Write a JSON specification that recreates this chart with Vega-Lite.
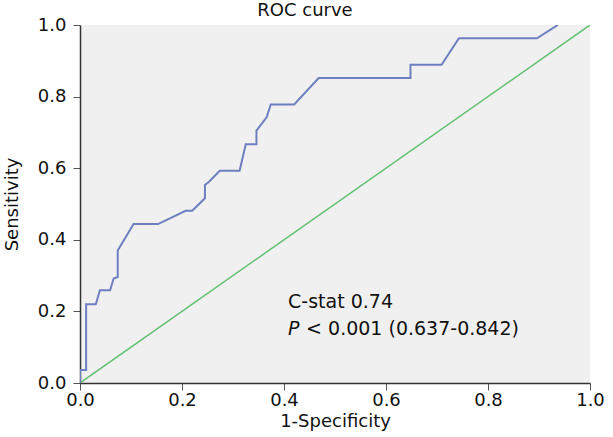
{
  "$schema": "https://vega.github.io/schema/vega-lite/v6.json",
  "width": 510,
  "height": 358,
  "autosize": "none",
  "padding": {"left": 80, "top": 25, "right": 23, "bottom": 54},
  "background": "white",
  "config": {
    "view": {"fill": "#f0f0f0", "stroke": null},
    "font": "DejaVu Sans",
    "axis": {
      "grid": false,
      "labelFlush": false,
      "labelOverlap": false,
      "domainColor": "#333333",
      "domainWidth": 1.5,
      "tickColor": "#555555",
      "tickSize": 7,
      "labelFont": "DejaVu Sans",
      "labelFontSize": 18,
      "labelColor": "#111111",
      "titleFont": "DejaVu Sans",
      "titleFontSize": 18,
      "titleFontWeight": "normal",
      "titleColor": "#111111"
    }
  },
  "title": {
    "text": "ROC curve",
    "fontSize": 18,
    "fontWeight": "normal",
    "font": "DejaVu Sans",
    "color": "#111111",
    "offset": -4,
    "dx": -30
  },
  "layer": [
    {
      "data": {"values": [{"fpr": 0, "tpr": 0}, {"fpr": 1, "tpr": 1}]},
      "mark": {"type": "line", "color": "#62c070", "strokeWidth": 1.5, "clip": true},
      "encoding": {
        "x": {"field": "fpr", "type": "quantitative", "scale": {"domain": [0, 1], "nice": false},
              "axis": {"values": [0, 0.2, 0.4, 0.6, 0.8, 1.0], "format": ".1f", "title": "1-Specificity", "titlePadding": 3, "labelPadding": 1}},
        "y": {"field": "tpr", "type": "quantitative", "scale": {"domain": [0, 1], "nice": false},
              "axis": {"values": [0, 0.2, 0.4, 0.6, 0.8, 1.0], "format": ".1f", "title": "Sensitivity", "titlePadding": 16, "labelPadding": 7}}
      }
    },
    {
      "data": {"values": [
        {"step": 0, "fpr": 0, "tpr": 0},
        {"step": 1, "fpr": 0, "tpr": 0.036},
        {"step": 2, "fpr": 0.012, "tpr": 0.036},
        {"step": 3, "fpr": 0.012, "tpr": 0.22},
        {"step": 4, "fpr": 0.031, "tpr": 0.22},
        {"step": 5, "fpr": 0.039, "tpr": 0.259},
        {"step": 6, "fpr": 0.059, "tpr": 0.259},
        {"step": 7, "fpr": 0.066, "tpr": 0.292},
        {"step": 8, "fpr": 0.074, "tpr": 0.296},
        {"step": 9, "fpr": 0.074, "tpr": 0.37},
        {"step": 10, "fpr": 0.105, "tpr": 0.444},
        {"step": 11, "fpr": 0.153, "tpr": 0.444},
        {"step": 12, "fpr": 0.207, "tpr": 0.481},
        {"step": 13, "fpr": 0.22, "tpr": 0.481},
        {"step": 14, "fpr": 0.245, "tpr": 0.516},
        {"step": 15, "fpr": 0.245, "tpr": 0.553},
        {"step": 16, "fpr": 0.253, "tpr": 0.562},
        {"step": 17, "fpr": 0.274, "tpr": 0.593},
        {"step": 18, "fpr": 0.313, "tpr": 0.593},
        {"step": 19, "fpr": 0.325, "tpr": 0.667},
        {"step": 20, "fpr": 0.346, "tpr": 0.667},
        {"step": 21, "fpr": 0.346, "tpr": 0.705},
        {"step": 22, "fpr": 0.366, "tpr": 0.742},
        {"step": 23, "fpr": 0.374, "tpr": 0.778},
        {"step": 24, "fpr": 0.42, "tpr": 0.778},
        {"step": 25, "fpr": 0.468, "tpr": 0.852},
        {"step": 26, "fpr": 0.648, "tpr": 0.852},
        {"step": 27, "fpr": 0.648, "tpr": 0.889},
        {"step": 28, "fpr": 0.709, "tpr": 0.889},
        {"step": 29, "fpr": 0.743, "tpr": 0.963},
        {"step": 30, "fpr": 0.896, "tpr": 0.963},
        {"step": 31, "fpr": 0.937, "tpr": 1.0}
      ]},
      "mark": {"type": "line", "color": "#6e7fc0", "strokeWidth": 2, "clip": true},
      "encoding": {
        "x": {"field": "fpr", "type": "quantitative"},
        "y": {"field": "tpr", "type": "quantitative"},
        "order": {"field": "step", "type": "quantitative"}
      }
    },
    {
      "data": {"values": [{"label": "C-stat 0.74"}]},
      "mark": {"type": "text", "align": "left", "baseline": "alphabetic", "fontSize": 19, "font": "DejaVu Sans", "color": "#111111"},
      "encoding": {
        "x": {"datum": 0.408},
        "y": {"datum": 0.209},
        "text": {"field": "label"}
      }
    },
    {
      "data": {"values": [{"label": "P"}]},
      "mark": {"type": "text", "align": "left", "baseline": "alphabetic", "fontSize": 19, "font": "DejaVu Sans", "fontStyle": "italic", "color": "#111111"},
      "encoding": {
        "x": {"datum": 0.408},
        "y": {"datum": 0.134},
        "text": {"field": "label"}
      }
    },
    {
      "data": {"values": [{"label": "< 0.001 (0.637-0.842)"}]},
      "mark": {"type": "text", "align": "left", "baseline": "alphabetic", "fontSize": 19, "font": "DejaVu Sans", "color": "#111111", "dx": 18},
      "encoding": {
        "x": {"datum": 0.408},
        "y": {"datum": 0.134},
        "text": {"field": "label"}
      }
    }
  ]
}
